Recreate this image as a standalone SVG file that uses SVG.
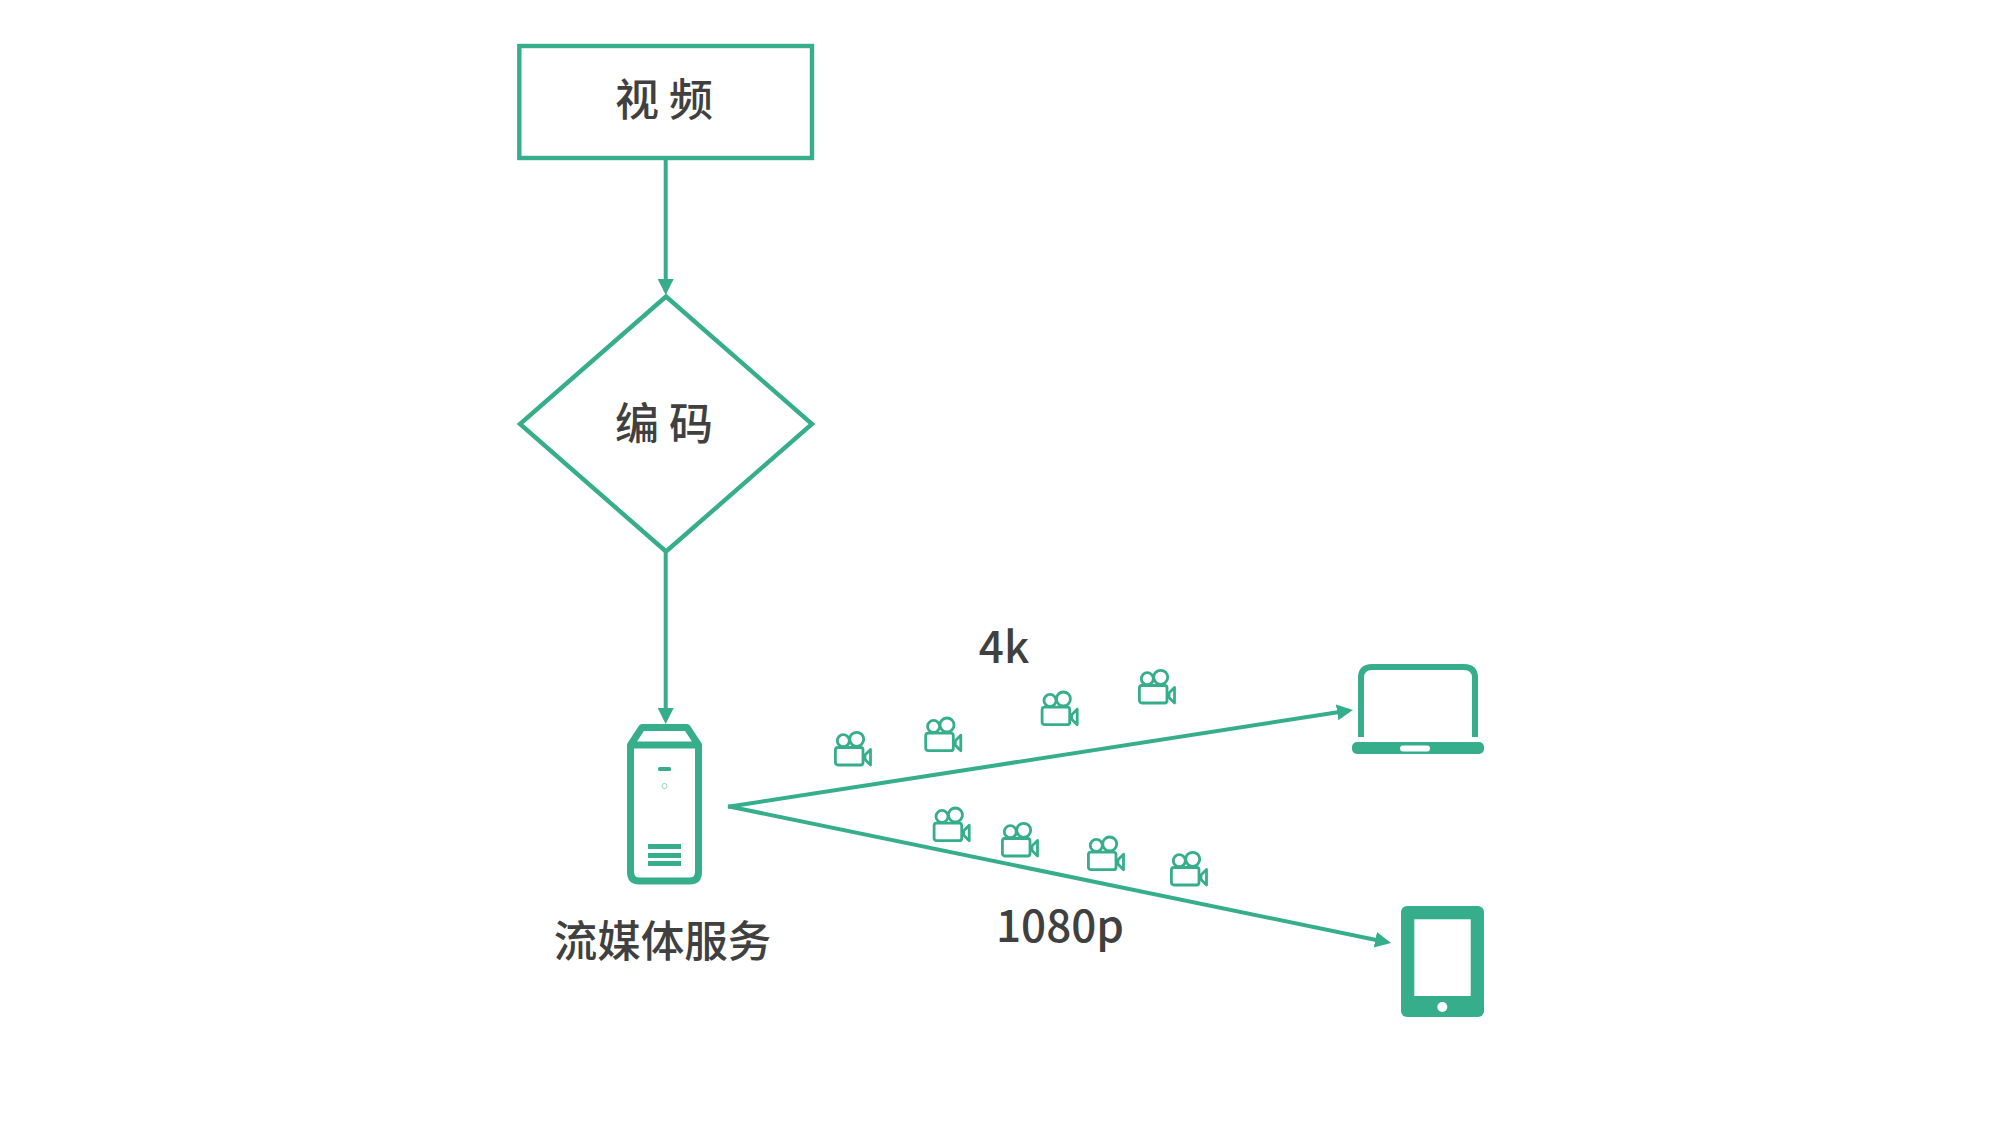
<svg xmlns="http://www.w3.org/2000/svg" width="2000" height="1125" viewBox="0 0 2000 1125">
<style>
.s{fill:none;stroke:#37ae8b}
.f{fill:#37ae8b}
.l{fill:none;stroke:#37ae8b;stroke-width:4}
.t{font-family:"Noto Sans CJK SC","Noto Sans",sans-serif;font-size:44px;font-weight:500;fill:#404040;text-anchor:middle}
</style>
<defs>
<marker id="a" markerUnits="userSpaceOnUse" markerWidth="18" markerHeight="18" refX="12" refY="8" orient="auto"><path d="M0 0L16 8L0 16Z" fill="#37ae8b"/></marker>
<symbol id="cam" width="40" height="38" viewBox="0 0 40 38" overflow="visible">
<g fill="none" stroke="#37ae8b" stroke-width="2.8" stroke-linejoin="round">
<rect x="1.4" y="16.5" width="27.6" height="17.5" rx="2.5"/>
<circle cx="9.3" cy="9.7" r="6"/>
<circle cx="22.7" cy="8.3" r="7"/>
<path d="M36.5 18.5L31 24V28.5L36.5 34Z"/>
</g>
</symbol>
</defs>
<rect width="2000" height="1125" fill="#fff"/>
<g id="connectors">
<path class="l" d="M665.7 160V291" marker-end="url(#a)"/>
<path class="l" d="M665.7 551V720" marker-end="url(#a)"/>
<path class="l" d="M728 806.8L1349 710.6" marker-end="url(#a)"/>
<path class="l" d="M728 806.2L1387.1 942.2" marker-end="url(#a)"/>
</g>
<g id="video">
<rect class="s" x="519.3" y="46" width="292.7" height="112" stroke-width="4.4"/>
<text class="t" x="664" y="116">视 频</text>
</g>
<g id="encode">
<path class="s" stroke-width="4.4" d="M666 296.5L812 424L666 551.5L520 424Z"/>
<text class="t" x="664" y="440">编 码</text>
</g>
<g id="server">
<path class="s" stroke-width="7" d="M630.5 745V872Q630.5 881 639.5 881H689.5Q698.5 881 698.5 872V745"/>
<path class="s" stroke-width="7" stroke-linejoin="round" d="M630.5 745L642 727.5H687L698.5 745Z"/>
<rect class="f" x="658" y="767" width="13" height="4" rx="1.5"/>
<circle cx="664.5" cy="786" r="2.6" fill="none" stroke="#37ae8b" stroke-opacity=".5"/>
<rect class="f" x="648" y="844" width="33" height="5"/>
<rect class="f" x="648" y="853" width="33" height="5"/>
<rect class="f" x="648" y="861" width="33" height="5"/>
<text class="t" x="662.5" y="957" style="font-size:43.5px">流媒体服务</text>
</g>
<g id="laptop">
<path class="s" stroke-width="6" d="M1361 737V678Q1361 667 1372 667H1464Q1475 667 1475 678V737"/>
<rect class="f" x="1352" y="742" width="132" height="12" rx="5"/>
<rect x="1400" y="745.5" width="30" height="6" rx="3" fill="#fff"/>
</g>
<g id="tablet">
<rect class="f" x="1401" y="906" width="83" height="111" rx="6"/>
<rect x="1414.3" y="919.3" width="56.4" height="76.7" fill="#fff"/>
<circle cx="1442.3" cy="1007" r="5" fill="#fff"/>
</g>
<g id="cameras">
<use href="#cam" x="834" y="731"/>
<use href="#cam" x="924.3" y="716.7"/>
<use href="#cam" x="1040.7" y="690.7"/>
<use href="#cam" x="1138" y="669"/>
<use href="#cam" x="932.7" y="806.7"/>
<use href="#cam" x="1001" y="822"/>
<use href="#cam" x="1087" y="835.7"/>
<use href="#cam" x="1170" y="851"/>
</g>
<text class="t" x="1004" y="663">4k</text>
<text class="t" x="1060" y="942">1080p</text>
</svg>
